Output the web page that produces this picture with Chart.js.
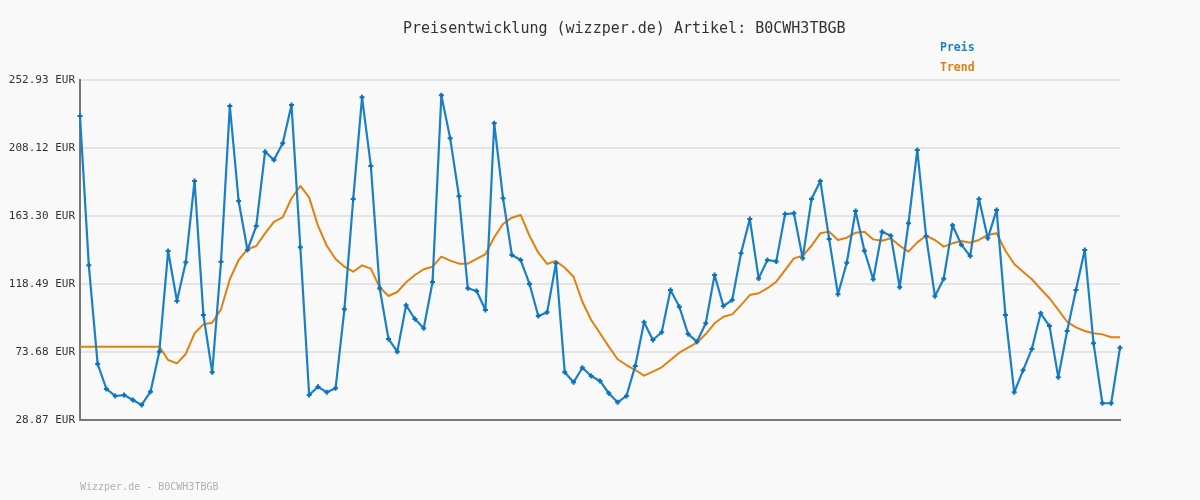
<!DOCTYPE html>
<html>
<head>
<meta charset="utf-8">
<script src="https://cdn.jsdelivr.net/npm/chart.js@4"></script>
<style>
  body { margin: 0; background: #f9f9f9; }
  #wrap { position: relative; width: 1200px; height: 500px; }
  .txt { position: absolute; font-family: "DejaVu Sans Mono", monospace; white-space: nowrap; line-height: 1; }
  #titel { left: 403px; top: 21px; font-size: 15px; color: #333; }
  #lgPreis { left: 940px; top: 42px; font-size: 11.5px; font-weight: bold; color: #1a7fc6; }
  #lgTrend { left: 940px; top: 62px; font-size: 11.5px; font-weight: bold; color: #e07f10; }
  #fuss { left: 80px; top: 482px; font-size: 10px; color: #b0b0b0; }
</style>
</head>
<body>
<div id="wrap">
  <canvas id="canvas" width="1200" height="500"></canvas>
  <div class="txt" id="titel">Preisentwicklung (wizzper.de) Artikel: B0CWH3TBGB</div>
  <div class="txt" id="lgPreis">Preis</div>
  <div class="txt" id="lgTrend">Trend</div>
  <div class="txt" id="fuss">Wizzper.de - B0CWH3TBGB</div>
</div>
<script>
// Werte (EUR)
const preis = [
  229.2, 130.8, 65.8, 49.3, 44.7, 45.3, 42.1, 38.8, 47.5, 73.9,
  140.2, 107.3, 132.8, 186.4, 98.1, 60.3, 133.2, 235.8, 173.2, 140.9,
  156.7, 205.7, 200.2, 211.2, 236.4, 142.7, 45.3, 50.8, 47.1, 49.8,
  101.8, 174.5, 241.5, 196.3, 115.7, 82.3, 73.9, 104.5, 95.4, 89.3,
  119.8, 242.8, 214.5, 176.3, 115.7, 113.9, 101.4, 224.4, 175.0, 137.6,
  134.3, 118.5, 97.4, 99.8, 132.1, 60.3, 53.7, 63.3, 57.9, 54.6,
  46.5, 40.5, 44.7, 64.5, 93.3, 81.6, 86.7, 114.5, 103.5, 85.5,
  80.5, 92.6, 124.4, 104.0, 107.9, 138.7, 161.3, 122.2, 134.3, 133.4,
  164.6, 165.1, 135.4, 174.5, 186.4, 148.1, 111.7, 132.5, 166.6, 140.4,
  121.6, 153.0, 150.3, 116.3, 158.5, 206.8, 150.1, 110.4, 122.0, 157.2,
  144.4, 136.9, 174.5, 148.6, 167.3, 98.1, 47.1, 61.6, 75.7, 99.2,
  90.8, 57.0, 87.5, 114.5, 140.9, 79.4, 39.9, 39.9, 76.5
];

const trend = [
  77.2, 77.2, 77.2, 77.2, 77.2, 77.2, 77.2, 77.2, 77.2, 77.2,
  68.4, 66.2, 72.4, 86.0, 91.9, 93.0, 101.8, 121.6, 134.3, 141.4,
  143.5, 151.9, 159.5, 162.4, 175.0, 183.1, 175.6, 156.9, 143.7, 135.0,
  129.9, 126.6, 130.8, 128.6, 116.3, 110.6, 113.2, 119.6, 124.4, 128.2,
  129.9, 136.5, 133.9, 131.9, 131.9, 135.0, 138.1, 149.3, 158.0, 162.2,
  164.0, 150.3, 139.1, 131.7, 133.7, 129.2, 123.3, 106.8, 94.8, 86.0,
  77.2, 68.9, 65.1, 61.8, 58.1, 60.7, 63.6, 68.4, 73.2, 76.5,
  79.8, 85.5, 92.6, 96.9, 98.5, 104.6, 111.2, 112.4, 115.7, 120.0,
  127.7, 135.4, 137.1, 143.7, 151.9, 153.0, 147.5, 149.0, 152.3, 153.0,
  147.9, 147.0, 148.6, 143.7, 139.8, 145.9, 150.3, 147.5, 143.1, 145.3,
  146.8, 145.7, 147.5, 150.8, 151.9, 140.4, 131.7, 126.6, 121.6, 115.2,
  109.1, 101.4, 93.6, 89.9, 87.5, 86.0, 85.3, 83.4, 83.4
];

// y-Achse
const tickWerte = [28.87, 73.68, 118.49, 163.30, 208.12, 252.93];
const tickLabels = ["28.87 EUR", "73.68 EUR", "118.49 EUR", "163.30 EUR", "208.12 EUR", "252.93 EUR"];

// x-Kategorien (werden nicht angezeigt)
const tage = preis.map((_, i) => String(i + 1));

const ctx = document.getElementById("canvas").getContext("2d");

new Chart(ctx, {
    type: "line",
    data: {
        labels: tage,
        datasets: [
            {
                label: "Trend",
                data: trend,
                borderColor: "#e0800f",
                borderWidth: 2,
                borderJoinStyle: "round",
                pointRadius: 0,
                tension: 0,
                order: 2
            },
            {
                label: "Preis",
                data: preis,
                borderColor: "#1a7fc6",
                borderWidth: 2.2,
                borderJoinStyle: "round",
                pointStyle: "cross",
                pointRadius: 2.5,
                pointBorderWidth: 2,
                pointBorderColor: "#0d72b8",
                tension: 0,
                order: 1
            }
        ]
    },
    options: {
        responsive: false,
        animation: false,
        layout: { padding: { left: 0, right: 80, top: 80, bottom: 80 } },
        plugins: {
            legend: { display: false },
            title: { display: false },
            tooltip: { enabled: false }
        },
        scales: {
            x: {
                offset: false,
                ticks: { display: false },
                grid: { display: false },
                border: { display: true, color: "#777", width: 2 },
                afterFit: (scale) => { scale.height = 0; }
            },
            y: {
                min: tickWerte[0],
                max: tickWerte[tickWerte.length - 1],
                afterBuildTicks: (scale) => {
                    scale.ticks = tickWerte.map(v => ({ value: v }));
                },
                afterFit: (scale) => { scale.width = 80; },
                ticks: {
                    callback: (v, i) => tickLabels[i],
                    color: "#333",
                    padding: 5,
                    font: { family: "DejaVu Sans Mono", size: 11 }
                },
                grid: { color: "#e4e4e4", lineWidth: 2, drawTicks: false },
                border: { display: true, color: "#777", width: 2 }
            }
        }
    }
});
</script>
</body>
</html>
